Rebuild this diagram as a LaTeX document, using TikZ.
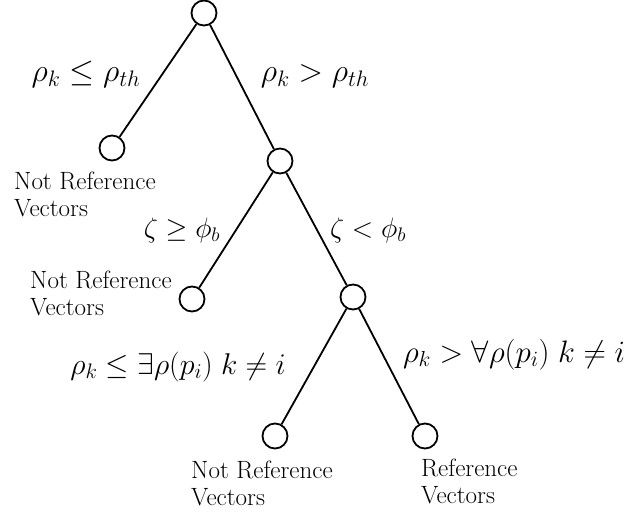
\RequirePackage{fix-cm}
\documentclass[tikz,border=0pt]{standalone}
\usepackage{amsmath,amssymb}
\begin{document}
\begin{tikzpicture}[x=1pt,y=-1pt,
  treenode/.style={circle,draw,line width=1.8pt,minimum size=25pt,inner sep=0pt},
  edge/.style={line width=1.8pt},
  leaflabel/.style={align=left,inner sep=0pt,anchor=base west,font=\fontsize{25}{26.5}\selectfont},
  condlabel/.style={inner sep=0pt,anchor=base}]
\useasboundingbox (0,0) rectangle (632,516);
\node[treenode] (n0) at (204,13) {};
\node[treenode] (n1) at (112,148) {};
\node[treenode] (n2) at (280,161) {};
\node[treenode] (n3) at (192,299) {};
\node[treenode] (n4) at (353,297) {};
\node[treenode] (n5) at (275,436) {};
\node[treenode] (n6) at (425,436) {};
\draw[edge] (n0) -- (n1);
\draw[edge] (n0) -- (n2);
\draw[edge] (n2) -- (n3);
\draw[edge] (n2) -- (n4);
\draw[edge] (n4) -- (n5);
\draw[edge] (n4) -- (n6);
\node[condlabel,font=\fontsize{32}{35}\selectfont] (c1) at (86,82) {$\rho_{k}\le\rho_{th}$};
\node[condlabel,font=\fontsize{32}{35}\selectfont] (c2) at (315,82) {$\rho_{k}>\rho_{th}$};
\node[condlabel,font=\fontsize{28}{31}\selectfont] (c3) at (182,237) {$\zeta\ge\phi_{b}$};
\node[condlabel,font=\fontsize{28}{31}\selectfont] (c4) at (368,237) {$\zeta<\phi_{b}$};
\node[condlabel,font=\fontsize{30}{33}\selectfont] (c5) at (178,374) {$\rho_{k}\le\exists\rho(p_{i})\;k\ne i$};
\node[condlabel,font=\fontsize{31}{34}\selectfont] (c6) at (514,362) {$\rho_{k}>\forall\rho(p_{i})\;k\ne i$};
\node[leaflabel] (t1) at (14,216) {Not Reference\\Vectors};
\node[leaflabel] (t3) at (30,315) {Not Reference\\Vectors};
\node[leaflabel] (t5) at (191,505) {Not Reference\\Vectors};
\node[leaflabel] (t6) at (421,503) {Reference\\Vectors};
\end{tikzpicture}
\end{document}
